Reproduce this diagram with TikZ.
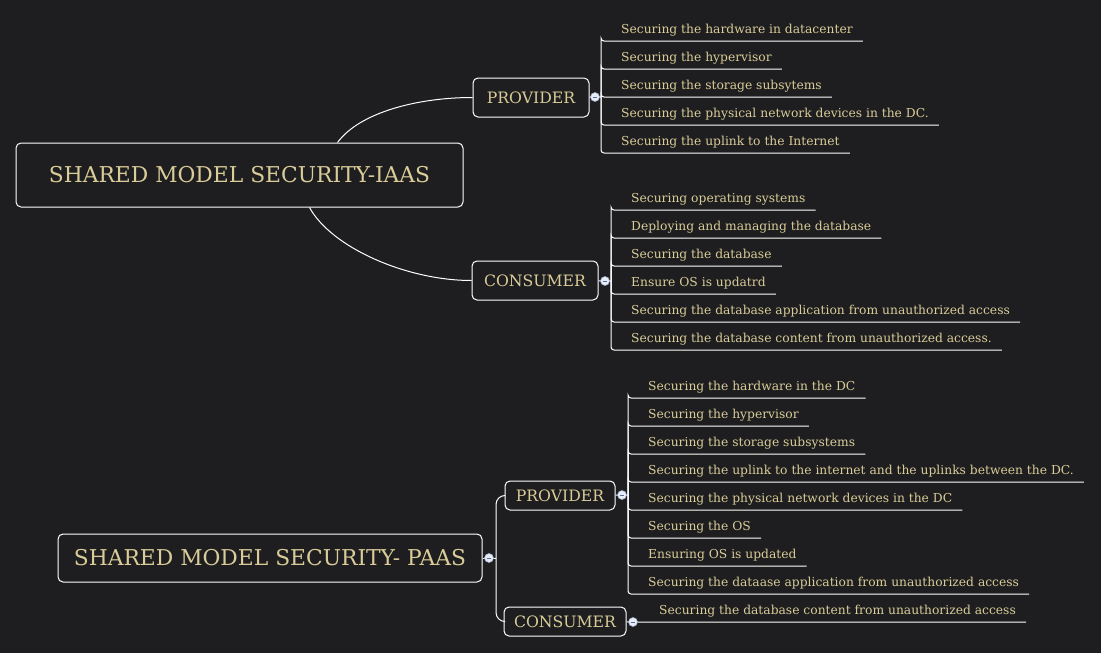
\documentclass[tikz,border=0pt]{standalone}
\usepackage{fontspec}
\setmainfont{DejaVu Serif}
\definecolor{bg}{HTML}{1E1E20}
\definecolor{txt}{HTML}{D9CC98}
\definecolor{dotfill}{HTML}{E8ECF5}
\definecolor{dotline}{HTML}{9AA8C8}
\definecolor{dotminus}{HTML}{5A6A9A}
\tikzset{
  conn/.style={draw=white, line width=1pt},
  box/.style={draw=white, line width=1pt, rounded corners=5pt, fill=bg, text=txt, inner sep=0pt},
  rootbox/.style={box, font=\fontsize{21.8}{26}\selectfont},
  branchbox/.style={box, font=\fontsize{15.7}{19}\selectfont},
  leaf/.style={anchor=south west, inner sep=0pt, text depth=7.5pt, text=txt,
    font=\fontsize{12.3}{14}\selectfont,
    execute at begin node=\hspace*{20pt}, execute at end node=\hspace*{10pt}},
  dotnode/.style={circle, draw=dotline, fill=dotfill, line width=0.6pt, minimum size=9pt, inner sep=0pt,
    path picture={\draw[dotminus, line width=1pt] ([xshift=-2.3pt]path picture bounding box.center) -- ([xshift=2.3pt]path picture bounding box.center);}},
}
\begin{document}
\begin{tikzpicture}[x=1pt, y=-1pt]
\fill[bg] (0,0) rectangle (1101,653);
\useasboundingbox (0,0) rectangle (1101,653);

% ---------- IAAS tree ----------
\node[rootbox, minimum width=447pt, minimum height=64pt] (r1) at (239.5,175) {SHARED MODEL SECURITY-IAAS};
\node[branchbox, minimum width=116pt, minimum height=39pt] (p1) at (531,97.5) {PROVIDER};
\node[branchbox, minimum width=126pt, minimum height=39pt] (c1) at (535,280.5) {CONSUMER};

\draw[conn] ([xshift=98pt]r1.north) .. controls +(22,-30) and +(-55,0) .. (p1.west);
\draw[conn] ([xshift=70pt]r1.south) .. controls +(22,40) and +(-65,0) .. (c1.west);

\coordinate (p1b) at (601,97);
\coordinate (c1b) at (611,281);

\node[leaf] (p1l1) at (601,41) {Securing the hardware in datacenter};
\node[leaf] (p1l2) at (601,69) {Securing the hypervisor};
\node[leaf] (p1l3) at (601,97) {Securing the storage subsytems};
\node[leaf] (p1l4) at (601,125) {Securing the physical network devices in the DC.};
\node[leaf] (p1l5) at (601,153) {Securing the uplink to the Internet};

\node[leaf] (c1l1) at (611,210) {Securing operating systems};
\node[leaf] (c1l2) at (611,238) {Deploying and managing the database};
\node[leaf] (c1l3) at (611,266) {Securing the database};
\node[leaf] (c1l4) at (611,294) {Ensure OS is updatrd};
\node[leaf] (c1l5) at (611,322) {Securing the database application from unauthorized access};
\node[leaf] (c1l6) at (611,350) {Securing the database content from unauthorized access.};

\foreach \n in {1,...,5} {
  \draw[conn, rounded corners=3pt] (p1b) |- (p1l\n.south west) -- (p1l\n.south east);
}
\foreach \n in {1,...,6} {
  \draw[conn, rounded corners=3pt] (c1b) |- (c1l\n.south west) -- (c1l\n.south east);
}
\draw[conn] (p1) -- (p1b);
\draw[conn] (c1) -- (c1b);
\node[dotnode] (p1dot) at (595,97) {};
\node[dotnode] (c1dot) at (605,281) {};

% ---------- PAAS tree ----------
\node[rootbox, minimum width=424pt, minimum height=48pt] (r2) at (270,558) {SHARED MODEL SECURITY- PAAS};
\node[branchbox, minimum width=110pt, minimum height=29pt] (p2) at (560,495.5) {PROVIDER};
\node[branchbox, minimum width=122pt, minimum height=29pt] (c2) at (565,621.5) {CONSUMER};

\coordinate (r2b) at (496,558);
\coordinate (p2b) at (628,495);
\draw[conn, rounded corners=9pt] (p2.west) -| (r2b) |- (c2.west);
\draw[conn] (r2) -- (r2b);

\node[leaf] (p2l1) at (628,398) {Securing the hardware in the DC};
\node[leaf] (p2l2) at (628,426) {Securing the hypervisor};
\node[leaf] (p2l3) at (628,454) {Securing the storage subsystems};
\node[leaf] (p2l4) at (628,482) {Securing the uplink to the internet and the uplinks between the DC.};
\node[leaf] (p2l5) at (628,510) {Securing the physical network devices in the DC};
\node[leaf] (p2l6) at (628,538) {Securing the OS};
\node[leaf] (p2l7) at (628,566) {Ensuring OS is updated};
\node[leaf] (p2l8) at (628,594) {Securing the dataase application from unauthorized access};
\foreach \n in {1,...,8} {
  \draw[conn, rounded corners=3pt] (p2b) |- (p2l\n.south west) -- (p2l\n.south east);
}
\draw[conn] (p2) -- (p2b);

\node[leaf] (c2l1) at (639,622) {Securing the database content from unauthorized access};
\draw[conn] (c2) -- (c2l1.south west) -- (c2l1.south east);

\node[dotnode] (r2dot) at (489,558) {};
\node[dotnode] (p2dot) at (622,495) {};
\node[dotnode] (c2dot) at (633,622) {};
\end{tikzpicture}
\end{document}
